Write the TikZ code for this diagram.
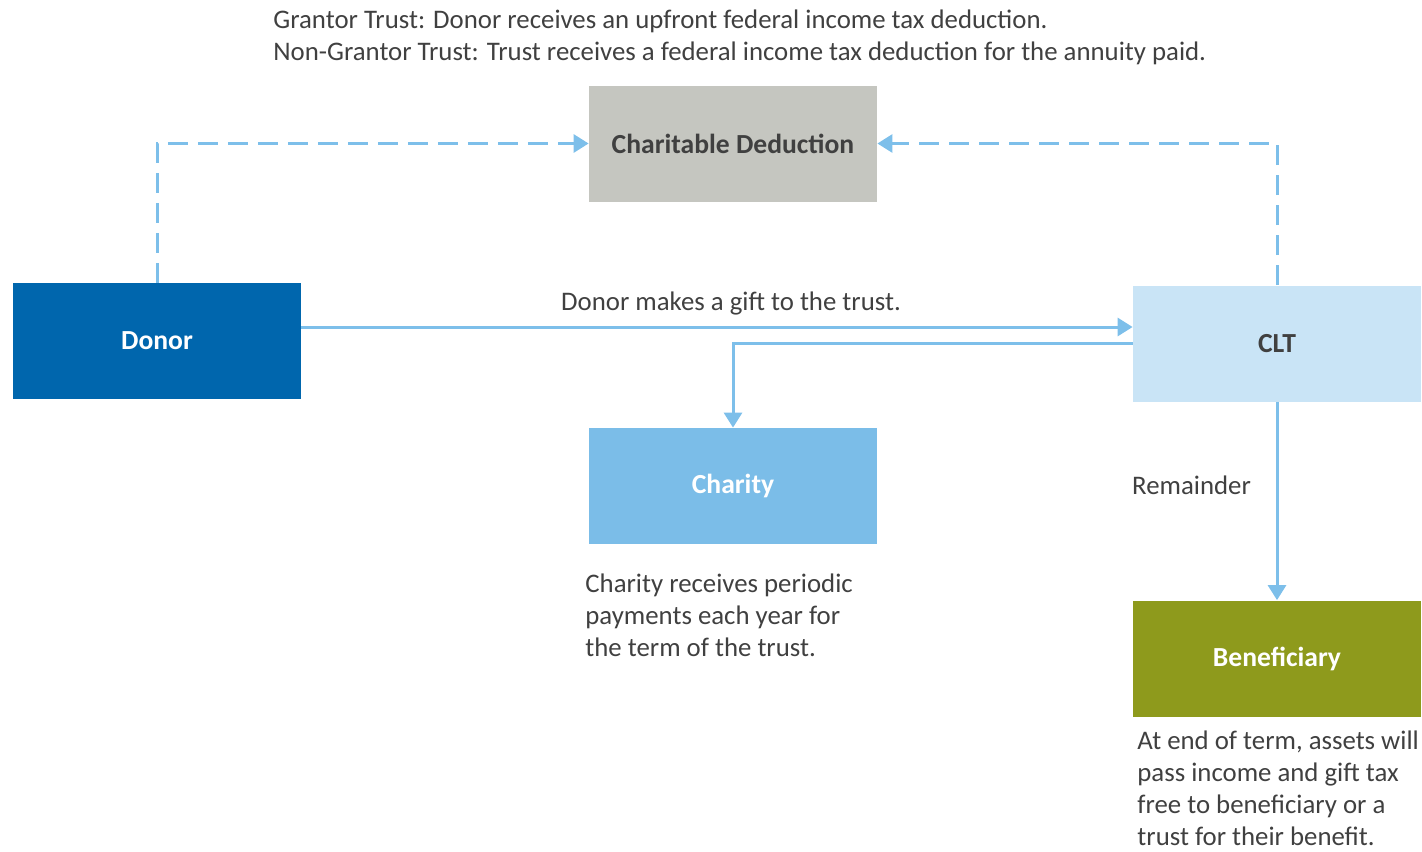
\documentclass[tikz,border=0pt]{standalone}
\usepackage{fontspec}
\setmainfont{Carlito}
\usetikzlibrary{arrows.meta}

\definecolor{linkblue}{HTML}{7DBFEA}
\definecolor{donorblue}{HTML}{0066AD}
\definecolor{deductgray}{HTML}{C5C6C0}
\definecolor{cltblue}{HTML}{C9E4F6}
\definecolor{charityblue}{HTML}{7BBDE8}
\definecolor{benefolive}{HTML}{8E9A1C}
\definecolor{textgray}{HTML}{404040}

\tikzset{
  box/.style={minimum width=144pt, minimum height=58pt, inner sep=0pt,
    font=\fontsize{13.8}{16}\selectfont\bfseries},
  note/.style={anchor=north west, inner sep=0pt, align=left, text=textgray,
    font=\fontsize{13.4}{16}\selectfont},
  flow/.style={draw=linkblue, line width=1.5pt, -{Triangle[length=7.5pt,width=9pt]}},
  dashflow/.style={flow, dash pattern=on 10pt off 5pt}
}

\begin{document}
\begin{tikzpicture}[x=0.5pt, y=-0.5pt]
    % Fix the page size
    \useasboundingbox (0,0) rectangle (1422,851);

    % Draw the boxes
    \node[box, fill=donorblue, text=white] (donor) at (157,341) {Donor};
    \node[box, fill=deductgray, text=textgray] (deduct) at (733,143.5) {Charitable Deduction};
    \node[box, fill=cltblue, text=textgray] (clt) at (1277,343.5) {CLT};
    \node[box, fill=charityblue, text=white] (charity) at (733,486) {Charity};
    \node[box, fill=benefolive, text=white] (benef) at (1277,658.5) {Beneficiary};

    % Corners of the dashed lines
    \coordinate (dcorner) at (157,143.5);
    \coordinate (ccorner) at (1277,143.5);

    % Draw the dashed deduction arrows
    \draw[dashflow] (donor.north) -- (dcorner) -- (deduct.west);
    \draw[dashflow] (clt.north) -- (ccorner) -- (deduct.east);

    % Draw the gift arrow
    \draw[flow] (donor.east |- 0,327) -- (clt.west |- 0,327)
        node[midway, above=2pt, text=textgray, font=\fontsize{13.4}{16}\selectfont, xshift=7pt]
        {Donor makes a gift to the trust.};

    % Draw the payments to charity
    \coordinate (pcorner) at (733,343);
    \draw[flow] (clt.west |- pcorner) -- (pcorner) -- (charity.north);

    % Draw the remainder arrow
    \draw[flow] (clt.south) -- (benef.north)
        node[pos=0.42, left=9pt, text=textgray, font=\fontsize{13.4}{16}\selectfont] {Remainder};

    % Add the notes
    \node[note] (topnote) at (273,9) {Grantor Trust: Donor receives an upfront federal income tax deduction.\\
        Non-Grantor Trust: Trust receives a federal income tax deduction for the annuity paid.};
    \node[note] (charnote) at (585,573) {Charity receives periodic\\payments each year for\\the term of the trust.};
    \node[note] (benefnote) at (1137,730) {At end of term, assets will\\pass income and gift tax\\free to beneficiary or a\\trust for their benefit.};
\end{tikzpicture}
\end{document}
